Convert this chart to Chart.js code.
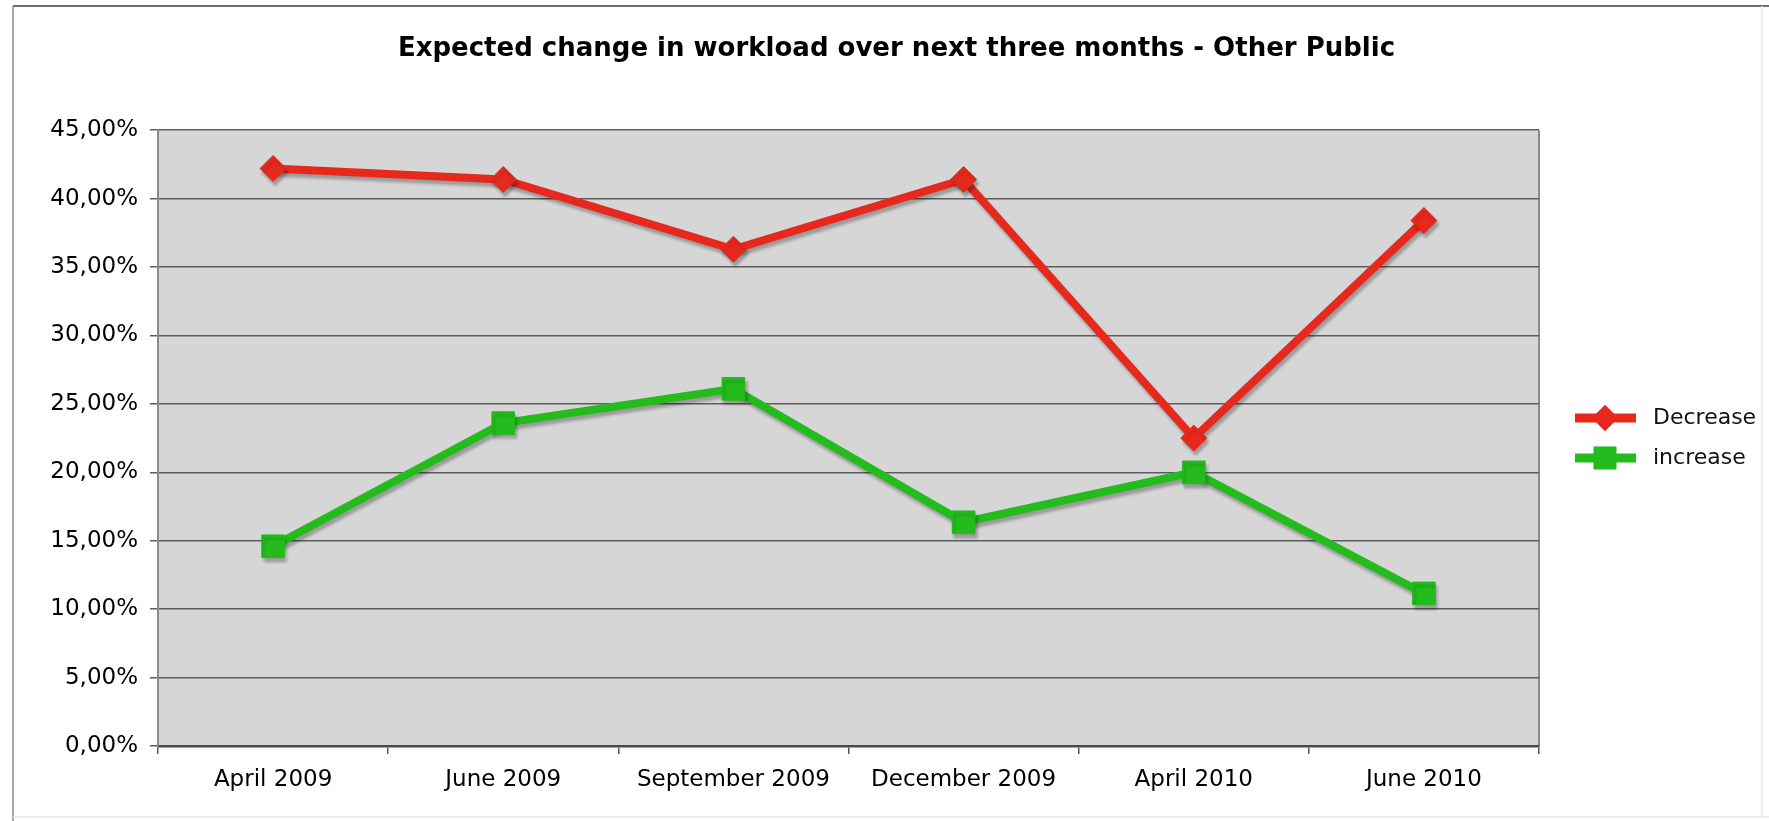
<!DOCTYPE html>
<html>
<head>
<meta charset="utf-8">
<script src="https://cdn.jsdelivr.net/npm/chart.js@4.4.1/dist/chart.umd.min.js"></script>
<style>
  html, body { margin: 0; padding: 0; background: #fff; }
  #wrap { width: 1769px; height: 821px; }
</style>
</head>
<body>
<div id="wrap"><canvas id="chart0" width="1769" height="821"></canvas></div>
<script>
const titleText = "Expected change in workload over next three months - Other Public";
const categories = ["April 2009", "June 2009", "September 2009", "December 2009", "April 2010", "June 2010"];
const decreaseVals = [42.2, 41.4, 36.3, 41.4, 22.5, 38.4];
const increaseVals = [14.6, 23.6, 26.1, 16.35, 20.0, 11.15];
const seriesNames = ["Decrease", "increase"];

const red = "#e6291c";
const green = "#23bc1c";
const fontFam = "'DejaVu Sans', Verdana, sans-serif";

// white page + thin outer frame + grey plot background
const backdrop = {
    id: "backdrop",
    beforeDraw(chart) {
        const ctx = chart.ctx, a = chart.chartArea;
        ctx.save();
        ctx.fillStyle = "#fff";
        ctx.fillRect(0, 0, chart.width, chart.height);
        ctx.strokeStyle = "#6e6e6e";
        ctx.lineWidth = 2;
        ctx.beginPath(); ctx.moveTo(13, 6); ctx.lineTo(chart.width, 6); ctx.stroke();
        ctx.lineWidth = 1.5;
        ctx.strokeStyle = "#8a8a8a";
        ctx.beginPath(); ctx.moveTo(13, 6); ctx.lineTo(13, chart.height); ctx.stroke();
        ctx.strokeStyle = "#e6e6e6";
        ctx.beginPath(); ctx.moveTo(13, 817); ctx.lineTo(chart.width, 817); ctx.stroke();
        ctx.beginPath(); ctx.moveTo(1762, 6); ctx.lineTo(1762, 817); ctx.stroke();
        ctx.fillStyle = "#d6d6d6";
        ctx.fillRect(a.left, a.top, a.right - a.left, a.bottom - a.top);
        ctx.strokeStyle = "#8c8c8c";
        ctx.lineWidth = 2;
        ctx.beginPath(); ctx.moveTo(a.right, a.top); ctx.lineTo(a.right, a.bottom); ctx.stroke();
        ctx.restore();
    }
};

// drop shadow under the lines
const lineShadow = {
    id: "lineShadow",
    beforeDatasetDraw(chart) {
        const ctx = chart.ctx;
        ctx.save();
        ctx.shadowColor = "rgba(0,0,0,0.28)";
        ctx.shadowOffsetX = 2;
        ctx.shadowOffsetY = 4;
        ctx.shadowBlur = 3;
    },
    afterDatasetDraw(chart) {
        chart.ctx.restore();
    }
};

// legend on the right: line sample with marker, then name
const sideLegend = {
    id: "sideLegend",
    afterDraw(chart) {
        const ctx = chart.ctx;
        const ys = [418, 458];
        chart.data.datasets.forEach(function(ds, i) {
            const y = ys[i];
            ctx.save();
            ctx.strokeStyle = ds.borderColor;
            ctx.lineWidth = 9;
            ctx.beginPath(); ctx.moveTo(1575, y); ctx.lineTo(1636, y); ctx.stroke();
            ctx.fillStyle = ds.borderColor;
            Chart.helpers.drawPoint(ctx, {pointStyle: ds.pointStyle, radius: ds.pointRadius, borderWidth: 0}, 1605, y);
            ctx.fill();
            ctx.fillStyle = "#111";
            ctx.font = "22px " + fontFam;
            ctx.textBaseline = "middle";
            ctx.textAlign = "left";
            ctx.fillText(ds.label, 1653, y);
            ctx.restore();
        });
    }
};

const ctx = document.getElementById("chart0").getContext("2d");
const chart = new Chart(ctx, {
    type: "line",
    data: {
        labels: categories,
        datasets: [
            {
                label: seriesNames[0],
                data: decreaseVals,
                borderColor: red,
                backgroundColor: red,
                borderWidth: 8,
                pointStyle: "rectRot",
                pointRadius: 13,
                pointBorderWidth: 1,
                tension: 0
            },
            {
                label: seriesNames[1],
                data: increaseVals,
                borderColor: green,
                backgroundColor: green,
                borderWidth: 8,
                pointStyle: "rect",
                pointRadius: 16,
                pointBorderWidth: 1,
                tension: 0
            }
        ]
    },
    options: {
        responsive: false,
        animation: false,
        devicePixelRatio: 1,
        layout: { padding: { left: 24, right: 0, top: 0, bottom: 0 } },
        plugins: {
            legend: { display: false },
            tooltip: { enabled: false },
            title: {
                display: true,
                text: titleText,
                color: "#000",
                font: { family: fontFam, size: 26, weight: "bold", lineHeight: 1.2 },
                padding: { top: 34, bottom: 65 }
            }
        },
        scales: {
            x: {
                offset: true,
                afterFit(scale) { scale.height = 75; },
                grid: { display: true, offset: true, drawOnChartArea: false, drawTicks: true, tickLength: 8, color: "#555", lineWidth: 1.5 },
                border: { display: true, color: "#4a4a4a", width: 2.5 },
                ticks: { color: "#000", font: { family: fontFam, size: 23 }, padding: 12, maxRotation: 0, autoSkip: false }
            },
            y: {
                min: 0,
                max: 45,
                afterFit(scale) { scale.width = 134; },
                grid: { color: "#5c5c5c", lineWidth: 1.5, tickLength: 8, tickColor: "#5c5c5c" },
                border: { display: true, color: "#8a8a8a", width: 2 },
                ticks: {
                    stepSize: 5,
                    color: "#000",
                    padding: 12,
                    font: { family: fontFam, size: 23 },
                    callback: function(v) { return v.toFixed(2).replace(".", ",") + "%"; }
                }
            },
            // empty right-hand axis that reserves room for the legend
            side: {
                position: "right",
                display: true,
                min: 0,
                max: 45,
                afterFit(scale) { scale.width = 230; },
                grid: { display: false },
                border: { display: false },
                ticks: { display: false }
            }
        }
    },
    plugins: [backdrop, lineShadow, sideLegend]
});
</script>
</body>
</html>
